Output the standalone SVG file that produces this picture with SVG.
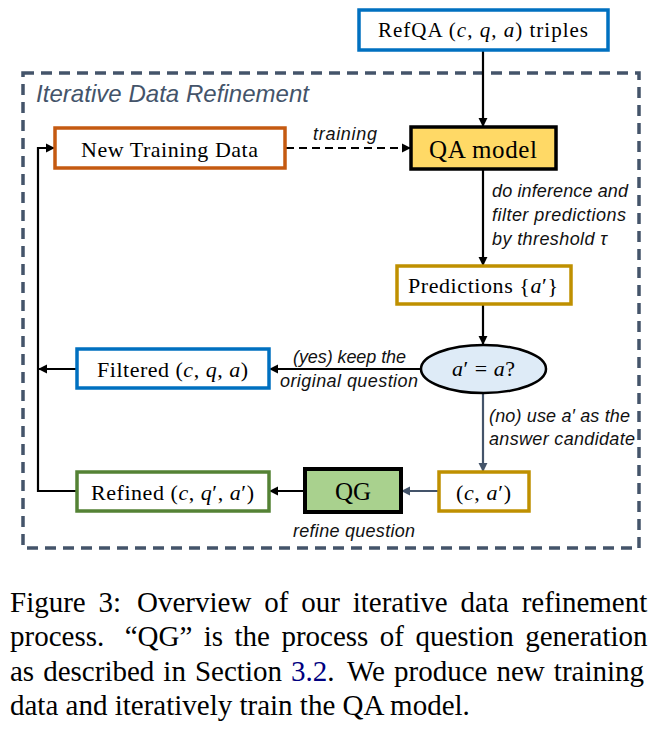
<svg xmlns="http://www.w3.org/2000/svg" width="655" height="731" viewBox="0 0 655 731">
<defs>
<style>
.box{fill:#fff;stroke-width:3.5}
.serif{font-family:"Liberation Serif","Times New Roman",serif;fill:#000}
.m{font-style:italic}
.lbl{font-family:"Liberation Sans",Arial,sans-serif;font-style:italic;font-size:18px;fill:#111}
.conn{fill:none;stroke:#000;stroke-width:2.2}
.gray{stroke:#44546A}
.cap{font-family:"Liberation Serif","Times New Roman",serif;font-size:29px;fill:#000}
</style>
<marker id="ah" viewBox="0 0 10 10" refX="9" refY="5" markerWidth="4.2" markerHeight="4.2" orient="auto" markerUnits="strokeWidth">
<path d="M0,0 L10,5 L0,10 z" fill="#000"/>
</marker>
<marker id="ahg" viewBox="0 0 10 10" refX="9" refY="5" markerWidth="4.2" markerHeight="4.2" orient="auto" markerUnits="strokeWidth">
<path d="M0,0 L10,5 L0,10 z" fill="#44546A"/>
</marker>
</defs>
<rect width="655" height="731" fill="#fff"/>

<g id="refinement-frame">
<rect x="23" y="73" width="616" height="475" fill="none" stroke="#44546A" stroke-width="3.5" stroke-dasharray="11,7"/>
<text x="36" y="102" font-family="'Liberation Sans',Arial,sans-serif" font-style="italic" font-size="24" fill="#44546A" textLength="273" lengthAdjust="spacing">Iterative Data Refinement</text>
</g>

<g id="connectors">
<line class="conn" x1="483" y1="50" x2="483" y2="126" marker-end="url(#ah)"/>
<line class="conn" x1="483" y1="169" x2="483" y2="265" marker-end="url(#ah)"/>
<line class="conn" x1="483" y1="304" x2="483" y2="344" marker-end="url(#ah)"/>
<line class="conn" x1="421" y1="369" x2="270" y2="369" marker-end="url(#ah)"/>
<line class="conn" x1="77" y1="369" x2="39" y2="369" marker-end="url(#ah)"/>
<line class="conn gray" x1="483" y1="393" x2="483" y2="471" marker-end="url(#ahg)"/>
<line class="conn gray" x1="439" y1="491" x2="402" y2="491" marker-end="url(#ahg)"/>
<line class="conn" x1="305" y1="491" x2="270" y2="491" marker-end="url(#ah)"/>
<polyline class="conn" points="77,491 38,491 38,148 54,148" marker-end="url(#ah)"/>
<line class="conn" x1="286" y1="148" x2="410" y2="148" stroke-dasharray="8,5" marker-end="url(#ah)"/>
<text class="lbl" x="313" y="140" textLength="64" lengthAdjust="spacing">training</text>
<text class="lbl" x="492" y="197" textLength="136" lengthAdjust="spacing">do inference and</text>
<text class="lbl" x="492" y="221" textLength="134" lengthAdjust="spacing">filter predictions</text>
<text class="lbl" x="492" y="245" textLength="115" lengthAdjust="spacing">by threshold τ</text>
<text class="lbl" x="293" y="363" textLength="113" lengthAdjust="spacing">(yes) keep the</text>
<text class="lbl" x="280" y="387" textLength="138" lengthAdjust="spacing">original question</text>
<text class="lbl" x="489" y="422" textLength="141" lengthAdjust="spacing">(no) use a′ as the</text>
<text class="lbl" x="489" y="445" textLength="146" lengthAdjust="spacing">answer candidate</text>
<text class="lbl" x="293" y="537" textLength="122" lengthAdjust="spacing">refine question</text>
</g>

<g id="refqa">
<rect class="box" x="359" y="10" width="249" height="40" stroke="#0070C0"/>
<text class="serif" x="378" y="37" font-size="21" textLength="210" lengthAdjust="spacing">RefQA (<tspan class="m">c</tspan>, <tspan class="m">q</tspan>, <tspan class="m">a</tspan>) triples</text>
</g>

<g id="new-training-data">
<rect class="box" x="55" y="128" width="230" height="40" stroke="#C55A11"/>
<text class="serif" x="81" y="157" font-size="22" textLength="177" lengthAdjust="spacing">New Training Data</text>
</g>

<g id="qa-model">
<rect x="411" y="127" width="145" height="42" fill="#FFD966" stroke="#000" stroke-width="3.5"/>
<text class="serif" x="429" y="158" font-size="25" textLength="108" lengthAdjust="spacing">QA model</text>
</g>

<g id="predictions">
<rect class="box" x="397" y="266" width="174" height="38" stroke="#BF9000"/>
<text class="serif" x="408" y="293" font-size="22" textLength="150" lengthAdjust="spacing">Predictions {<tspan class="m">a</tspan>′}</text>
</g>

<g id="decision">
<ellipse cx="483.5" cy="369" rx="62.5" ry="24" fill="#DEEBF7" stroke="#000" stroke-width="2.5"/>
<text class="serif" x="452" y="376" font-size="22" textLength="63" lengthAdjust="spacing"><tspan class="m">a</tspan>′ = <tspan class="m">a</tspan>?</text>
</g>

<g id="filtered">
<rect class="box" x="77" y="349" width="192" height="39" stroke="#0070C0"/>
<text class="serif" x="97" y="377" font-size="22" textLength="151" lengthAdjust="spacing">Filtered (<tspan class="m">c</tspan>, <tspan class="m">q</tspan>, <tspan class="m">a</tspan>)</text>
</g>

<g id="candidate">
<rect class="box" x="439" y="472" width="90" height="39" stroke="#BF9000"/>
<text class="serif" x="456" y="500" font-size="22" textLength="55" lengthAdjust="spacing">(<tspan class="m">c</tspan>, <tspan class="m">a</tspan>′)</text>
</g>

<g id="qg">
<rect x="305" y="469" width="96" height="43" fill="#A9D18E" stroke="#000" stroke-width="4"/>
<text class="serif" x="353" y="500" font-size="25" text-anchor="middle">QG</text>
</g>

<g id="refined">
<rect class="box" x="77" y="472" width="192" height="39" stroke="#548235"/>
<text class="serif" x="91" y="500" font-size="22" textLength="163" lengthAdjust="spacing">Refined (<tspan class="m">c</tspan>, <tspan class="m">q</tspan>′, <tspan class="m">a</tspan>′)</text>
</g>

<g id="caption">
<text class="cap" x="10" y="611.5" word-spacing="5.6">Figure 3: <tspan dx="3">Overview of our iterative data refinement</tspan></text>
<text class="cap" x="10" y="646" word-spacing="4.2">process. <tspan dx="9">“QG” is the process of question generation</tspan></text>
<text class="cap" x="10" y="680.5" word-spacing="1.8">as described in Section <tspan fill="#000080">3.2</tspan>. <tspan dx="4">We produce new training</tspan></text>
<text class="cap" x="10" y="715">data and iteratively train the QA model.</text>
</g>
</svg>
